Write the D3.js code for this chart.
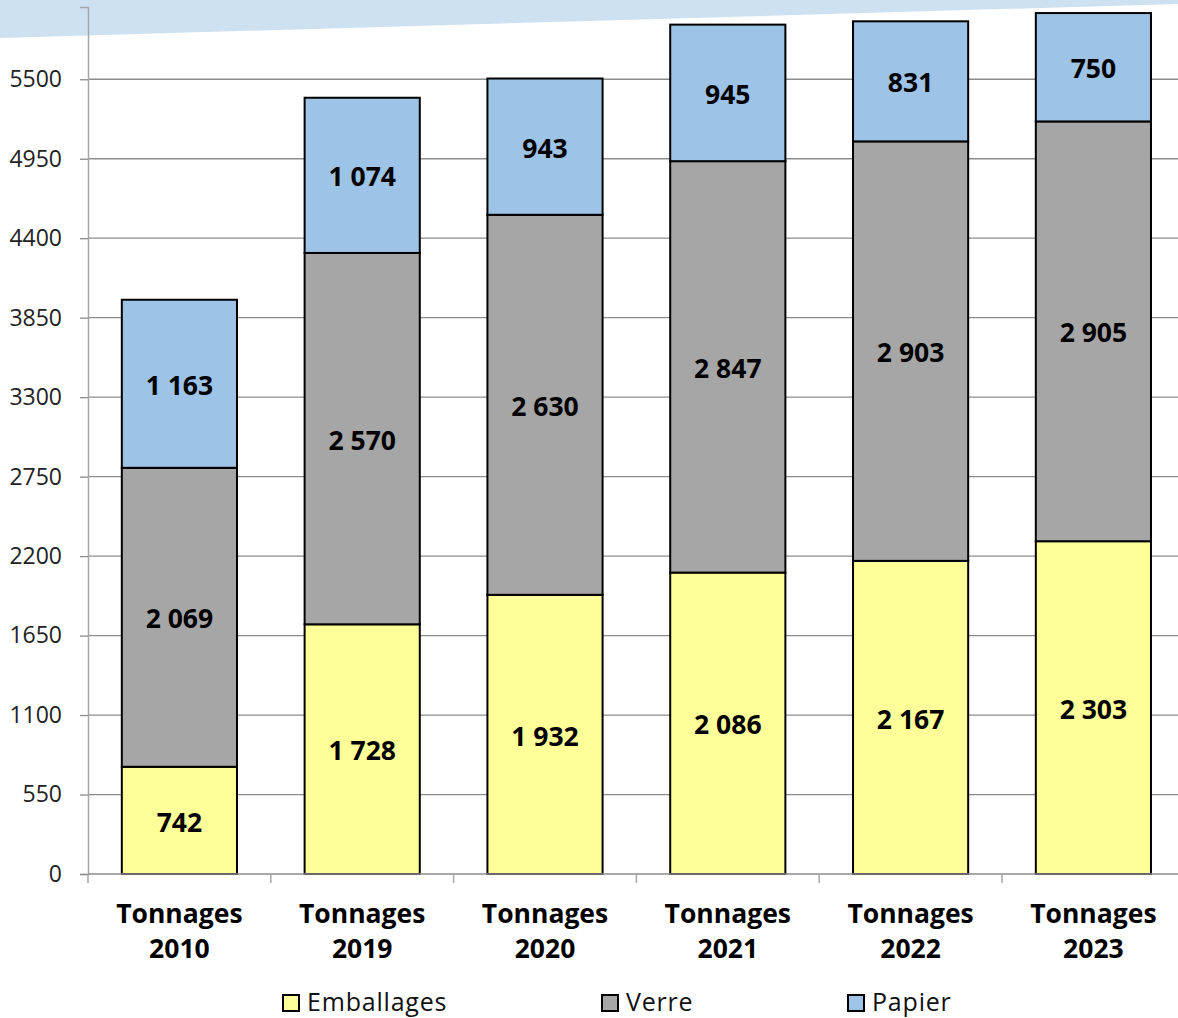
<!DOCTYPE html>
<html>
<head>
<meta charset="utf-8">
<script src="https://cdn.jsdelivr.net/npm/d3@7"></script>
<style>
  html, body { margin: 0; padding: 0; background: #fff; }
  svg { display: block; font-family: "Open Sans", "Noto Sans", sans-serif; }
</style>
</head>
<body>
<svg id="chart" width="1178" height="1018"></svg>
<script>
// Household recycling tonnages by stream
const years = ["2010", "2019", "2020", "2021", "2022", "2023"];
const categories = years.map(y => "Tonnages " + y);
const emballages = [742, 1728, 1932, 2086, 2167, 2303];
const verre = [2069, 2570, 2630, 2847, 2903, 2905];
const papier = [1163, 1074, 943, 945, 831, 750];
const seriesNames = ["Emballages", "Verre", "Papier"];
const seriesColors = ["#ffff99", "#a6a6a6", "#9dc3e6"];
const yTicks = [0, 550, 1100, 1650, 2200, 2750, 3300, 3850, 4400, 4950, 5500];

(function draw() {
  const svg = d3.select("#chart");
  const W = 1178;
  const plotLeft = 88, plotTop = 7, plotBottom = 874;
  const bandW = 182.8;

  // decorative slanted band across the top
  svg.append("polygon")
    .attr("points", `0,0 ${W},0 ${W},4 0,38`)
    .attr("fill", "#cde1f1");

  const x = d3.scaleBand()
    .domain(categories)
    .range([plotLeft, plotLeft + bandW * categories.length])
    .paddingInner(0.37)
    .paddingOuter(0.185);

  const y = d3.scaleLinear().domain([0, 6000]).range([plotBottom, plotTop]);

  // gridlines
  svg.append("g").selectAll("line")
    .data(yTicks.filter(d => d > 0))
    .join("line")
    .attr("x1", plotLeft).attr("x2", W)
    .attr("y1", d => y(d)).attr("y2", d => y(d))
    .attr("stroke", "#8c8c8c").attr("stroke-width", 1.3);

  // stacked bars
  const rows = categories.map((c, i) => ({
    cat: c, Emballages: emballages[i], Verre: verre[i], Papier: papier[i]
  }));
  const stack = d3.stack().keys(seriesNames)(rows);
  const fmt = v => d3.format(",")(v).replace(/,/g, " ");

  stack.forEach((layer, li) => {
    const g = svg.append("g");
    g.selectAll("rect")
      .data(layer)
      .join("rect")
      .attr("x", d => x(d.data.cat))
      .attr("width", x.bandwidth())
      .attr("y", d => y(d[1]))
      .attr("height", d => y(d[0]) - y(d[1]))
      .attr("fill", seriesColors[li])
      .attr("stroke", "#000")
      .attr("stroke-width", 2);
    g.selectAll("text")
      .data(layer)
      .join("text")
      .attr("x", d => x(d.data.cat) + x.bandwidth() / 2)
      .attr("y", d => (y(d[0]) + y(d[1])) / 2)
      .attr("dy", "0.42em")
      .attr("text-anchor", "middle")
      .attr("font-size", 26.5)
      .attr("font-weight", "bold")
      .attr("fill", "#000")
      .text(d => fmt(d[1] - d[0]));
  });

  // y axis
  const yAxis = d3.axisLeft(y).tickValues(yTicks).tickSize(8).tickPadding(18)
    .tickFormat(d3.format("d"));
  const gy = svg.append("g").attr("transform", `translate(${plotLeft},0)`).call(yAxis);
  gy.select(".domain").attr("stroke", "#a6a6a6").attr("stroke-width", 1.5);
  gy.selectAll(".tick line").attr("stroke", "#8c8c8c").attr("stroke-width", 1.3);
  gy.selectAll(".tick text").attr("font-size", 23).attr("fill", "#222")
    .attr("font-family", "'Open Sans', sans-serif");

  // x axis baseline and category separators
  svg.append("line")
    .attr("x1", plotLeft).attr("x2", W)
    .attr("y1", plotBottom).attr("y2", plotBottom)
    .attr("stroke", "#8c8c8c").attr("stroke-width", 1.5);
  svg.append("g").selectAll("line")
    .data(d3.range(categories.length + 1))
    .join("line")
    .attr("x1", i => plotLeft + i * bandW).attr("x2", i => plotLeft + i * bandW)
    .attr("y1", plotBottom).attr("y2", plotBottom + 9)
    .attr("stroke", "#a6a6a6").attr("stroke-width", 1.5);

  // category labels on two lines
  const xl = svg.append("g").selectAll("text")
    .data(categories)
    .join("text")
    .attr("text-anchor", "middle")
    .attr("font-size", 26.5)
    .attr("font-weight", "bold")
    .attr("fill", "#000");
  xl.append("tspan")
    .attr("x", d => x(d) + x.bandwidth() / 2)
    .attr("y", 923)
    .text(d => d.split(" ")[0]);
  xl.append("tspan")
    .attr("x", d => x(d) + x.bandwidth() / 2)
    .attr("y", 958)
    .text(d => d.split(" ")[1]);

  // legend
  const legendX = [283, 602, 848];
  const lg = svg.append("g").selectAll("g")
    .data(seriesNames)
    .join("g")
    .attr("transform", (d, i) => `translate(${legendX[i]},995)`);
  lg.append("rect")
    .attr("x", 0).attr("y", 0).attr("width", 16).attr("height", 16)
    .attr("fill", (d, i) => seriesColors[i])
    .attr("stroke", "#000").attr("stroke-width", 2);
  lg.append("text")
    .attr("x", 24).attr("y", 16)
    .attr("font-size", 25)
    .attr("letter-spacing", 0.8)
    .attr("fill", "#111")
    .text(d => d);
})();
</script>
</body>
</html>
